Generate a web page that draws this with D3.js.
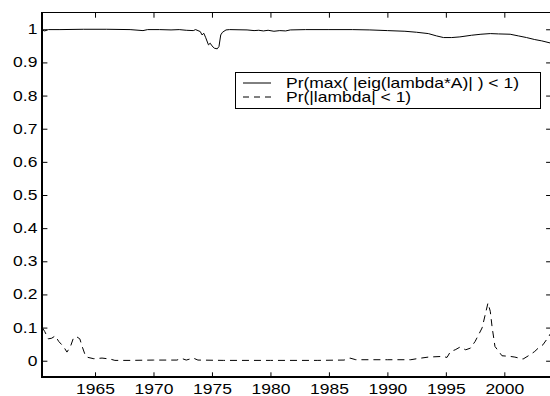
<!DOCTYPE html>
<html>
<head>
<meta charset="utf-8">
<script src="https://cdn.jsdelivr.net/npm/d3@7"></script>
<style>
	html, body { margin: 0; padding: 0; background: #fff; }
	svg { display: block; }
	text { font-family: "Liberation Sans", Arial, sans-serif; font-size: 14px; fill: #000; }
</style>
</head>
<body>
<div id="chart"></div>
<script>
// series 1: Pr(max(|eig(lambda*A)|) < 1)
var eigYears = [1960.5, 1960.7, 1961.0, 1962, 1964, 1966, 1968, 1969.1, 1969.5, 1970.5, 1971.5, 1972.2, 1972.8,
	1973.4, 1973.6, 1974.0, 1974.15, 1974.3, 1974.45, 1974.7, 1974.85, 1975.0, 1975.2, 1975.45, 1975.6, 1975.75,
	1975.9, 1976.2, 1976.5, 1978, 1978.6, 1979.0, 1979.4, 1979.8, 1980.3, 1980.8, 1981.3, 1981.7, 1983, 1985,
	1987, 1988.5, 1990, 1991.5, 1992.5, 1993.5, 1994.2, 1994.8, 1995.5, 1996.2, 1997.2, 1998.0, 1998.8, 1999.5,
	2000.5, 2001.2, 2001.9, 2002.6, 2003.2, 2004.0];
var eigValues = [0.997, 0.995, 0.999, 0.999, 1.0, 1.0, 0.999, 0.996, 0.999, 0.999, 0.998, 0.999, 0.997,
	0.996, 0.999, 0.993, 0.983, 0.988, 0.976, 0.953, 0.958, 0.950, 0.943, 0.941, 0.948, 0.983,
	0.991, 0.998, 0.999, 0.998, 0.996, 0.997, 0.995, 0.997, 0.994, 0.996, 0.995, 0.998, 0.999, 0.999,
	0.999, 0.998, 0.996, 0.994, 0.991, 0.987, 0.980, 0.975, 0.975, 0.977, 0.982, 0.985, 0.987, 0.986,
	0.985, 0.980, 0.975, 0.969, 0.965, 0.958];

// series 2: Pr(|lambda| < 1)
var lamYears = [1960.5, 1960.7, 1961.0, 1961.3, 1961.6, 1961.9, 1962.3, 1962.6, 1962.9, 1963.15, 1963.4, 1963.7,
	1963.9, 1964.2, 1964.4, 1964.9, 1965.6, 1966.3, 1966.7, 1968, 1970, 1972.0, 1972.4, 1972.8, 1973.4, 1973.8,
	1976, 1980, 1984, 1986.3, 1986.8, 1987.3, 1990, 1992.0, 1992.5, 1993.5, 1994.7, 1995.1, 1995.4, 1995.8,
	1996.2, 1996.7, 1997.1, 1997.5, 1998.1, 1998.4, 1998.6, 1998.8, 1998.95, 1999.2, 1999.8, 2000.5, 2000.9,
	2001.6, 2002.2, 2002.6, 2002.9, 2003.3, 2003.8, 2004.0];
var lamValues = [0.099, 0.088, 0.066, 0.068, 0.075, 0.058, 0.043, 0.026, 0.043, 0.068, 0.073, 0.066,
	0.043, 0.013, 0.010, 0.006, 0.008, 0.005, 0.001, 0.001, 0.002, 0.002, 0.007, 0.002, 0.008, 0.002,
	0.001, 0.001, 0.001, 0.002, 0.008, 0.003, 0.003, 0.003, 0.006, 0.011, 0.013, 0.010, 0.028, 0.033,
	0.041, 0.033, 0.038, 0.058, 0.099, 0.144, 0.174, 0.149, 0.103, 0.043, 0.015, 0.013, 0.011,
	0.005, 0.018, 0.028, 0.038, 0.048, 0.073, 0.085];

var xTicks = [1965, 1970, 1975, 1980, 1985, 1990, 1995, 2000];
var yTicks = [0, 0.1, 0.2, 0.3, 0.4, 0.5, 0.6, 0.7, 0.8, 0.9, 1];
var yTickLabels = ["0", "0.1", "0.2", "0.3", "0.4", "0.5", "0.6", "0.7", "0.8", "0.9", "1"];
var legendLabels = ["Pr(max( |eig(lambda*A)| ) < 1)", "Pr(|lambda| < 1)"];

var W = 550, H = 396;
var stretch = "scale(1.25,1)"; // the reference text is wider than it is tall

var x = d3.scaleLinear().domain([1960.5, 2004]).range([42.4, 551.1]);
var y = d3.scaleLinear().domain([-0.05, 1.05]).range([377.3, 12.7]);

var svg = d3.select("#chart")
	.append("svg")
	.attr("width", W)
	.attr("height", H);

// axes, ticks pointing inward like matlab
var gx = svg.append("g")
	.attr("transform", "translate(0," + y(-0.05) + ")")
	.call(d3.axisBottom(x).tickValues(xTicks).tickFormat(d3.format("d")).tickSizeInner(-5).tickSizeOuter(0));
gx.selectAll("text")
	.attr("y", null).attr("dy", null)
	.attr("transform", "translate(0,17) " + stretch);

var gy = svg.append("g")
	.attr("transform", "translate(" + x(1960.5) + ",0)")
	.call(d3.axisLeft(y).tickValues(yTicks).tickFormat((d, i) => yTickLabels[i]).tickSizeInner(-5).tickSizeOuter(0));
gy.selectAll("text")
	.attr("x", null)
	.attr("transform", "translate(-5,0) " + stretch);

svg.append("g")
	.attr("transform", "translate(0," + y(1.05) + ")")
	.call(d3.axisTop(x).tickValues(xTicks).tickFormat("").tickSizeInner(-5).tickSizeOuter(0));
svg.append("g")
	.attr("transform", "translate(" + x(2004) + ",0)")
	.call(d3.axisRight(y).tickValues(yTicks).tickFormat("").tickSizeInner(-5).tickSizeOuter(0));

svg.selectAll(".domain").remove();
svg.selectAll(".tick line").attr("stroke", "#000").attr("stroke-width", 1);
svg.selectAll(".tick text").attr("font-size", null).attr("font-family", null);

// box: left and bottom drawn heavier as in the picture
svg.append("line").attr("x1", 42).attr("x2", W).attr("y1", 12.5).attr("y2", 12.5)
	.attr("stroke", "#000").attr("stroke-width", 1);
svg.append("line").attr("x1", 42).attr("x2", 42).attr("y1", 12).attr("y2", 378)
	.attr("stroke", "#000").attr("stroke-width", 2);
svg.append("line").attr("x1", 41).attr("x2", W).attr("y1", 377).attr("y2", 377)
	.attr("stroke", "#000").attr("stroke-width", 2);

var line = d3.line().x(d => x(d[0])).y(d => y(d[1]));

svg.append("path")
	.datum(d3.zip(eigYears, eigValues))
	.attr("d", line)
	.attr("fill", "none")
	.attr("stroke", "#000")
	.attr("stroke-width", 1);

svg.append("path")
	.datum(d3.zip(lamYears, lamValues))
	.attr("d", line)
	.attr("fill", "none")
	.attr("stroke", "#000")
	.attr("stroke-width", 1)
	.attr("stroke-dasharray", "7,5");

// legend
var legend = svg.append("g");
legend.append("rect")
	.attr("x", 235.5).attr("y", 72.5)
	.attr("width", 305).attr("height", 36)
	.attr("fill", "#fff")
	.attr("stroke", "#000")
	.attr("stroke-width", 1);

var dashes = [null, "6,5"];
legendLabels.forEach((label, i) => {
	var ly = 83 + i * 14;
	legend.append("line")
		.attr("x1", 243).attr("x2", 271)
		.attr("y1", ly).attr("y2", ly)
		.attr("stroke", "#000")
		.attr("stroke-width", 1)
		.attr("stroke-dasharray", dashes[i]);
	legend.append("text")
		.attr("transform", "translate(286," + ly + ") " + stretch)
		.attr("dy", "0.35em")
		.text(label);
});
</script>
</body>
</html>
